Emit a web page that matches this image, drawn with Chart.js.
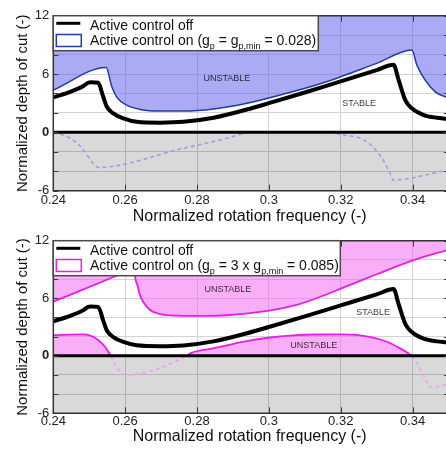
<!DOCTYPE html>
<html>
<head>
<meta charset="utf-8">
<script src="https://cdn.jsdelivr.net/npm/chart.js@4"></script>
<style>
  html, body { margin: 0; padding: 0; background: #fff; }
  .panel { position: absolute; left: 0; }
  canvas { display: block; }
</style>
</head>
<body>
<div class="panel" style="top:0"><canvas id="panelA" width="446" height="225"></canvas></div>
<div class="panel" style="top:225px"><canvas id="panelB" width="446" height="224"></canvas></div>
<script>
// ---- axis ticks ----
const xTicks = [0.24, 0.26, 0.28, 0.30, 0.32, 0.34];
const yTicks = [-6, -4, -2, 0, 2, 4, 6, 8, 10, 12];
const yLabelled = [-6, 0, 6, 12];

// ---- active control off (stability lobes, identical in both panels) ----
const offFreq  = [0.240, 0.2447, 0.2484, 0.2497, 0.2505, 0.2525, 0.2539, 0.2549, 0.2567, 0.2595, 0.2632, 0.2697, 0.2762, 0.2846, 0.2939, 0.3000, 0.3100, 0.3200, 0.3300, 0.3347, 0.3361, 0.3380, 0.3398, 0.3431, 0.3468, 0.3494];
const offDepth = [3.6, 4.17, 4.76, 5.1, 5.15, 5.1, 3.66, 2.63, 1.95, 1.44, 1.09, 1.0, 1.08, 1.5, 2.35, 3.0, 4.1, 5.25, 6.4, 6.95, 5.4, 3.3, 2.47, 1.78, 1.5, 1.4];

// ---- panel A: active control on, g_p = g_p,min = 0.028 ----
const aUpperFreq  = [0.240, 0.2547, 0.2563, 0.2577, 0.2604, 0.2642, 0.2697, 0.2762, 0.2846, 0.2939, 0.3032, 0.3143, 0.3300, 0.3398, 0.3412, 0.3435, 0.3463, 0.3494];
const aUpperDepth = [4.35, 6.68, 4.69, 3.6, 2.8, 2.36, 2.19, 2.19, 2.4, 3.0, 3.85, 5.0, 7.1, 8.46, 6.9, 5.37, 4.17, 3.6];
const aLowerFreq  = [0.240, 0.2447, 0.2484, 0.2511, 0.2525, 0.2762, 0.2874, 0.2955, 0.3170, 0.3207, 0.3254, 0.3290, 0.3318, 0.3337, 0.3346, 0.3494];
const aLowerDepth = [0, -0.6, -1.8, -3.2, -3.6, -1.64, -0.7, 0, 0, -0.28, -0.6, -1.5, -2.85, -4.2, -4.9, -3.9];

// ---- panel B: active control on, g_p = 3 x g_p,min = 0.085 ----
const bLeftFreq   = [0.240, 0.2581, 0.2605];
const bLeftDepth  = [5.64, 8.42, 8.8];
const bUpperFreq  = [0.2621, 0.2627, 0.2634, 0.2641, 0.2650, 0.2669, 0.2697, 0.2743, 0.2800, 0.2892, 0.3000, 0.3077, 0.3140, 0.3207, 0.3300, 0.3397, 0.3494];
const bUpperDepth = [12, 8.42, 7.38, 6.33, 5.64, 4.77, 4.35, 4.18, 4.15, 4.25, 4.7, 5.3, 6.1, 7.1, 8.5, 9.9, 11.0];
const bLowerFreq  = [0.240, 0.2483, 0.2511, 0.2530, 0.2544, 0.2553, 0.2560, 0.2572, 0.2586, 0.2600, 0.2772, 0.2781, 0.2845, 0.2938, 0.2998, 0.3077, 0.3142, 0.3207, 0.3281, 0.3328, 0.3365, 0.3388, 0.3397, 0.3420, 0.3439, 0.3450, 0.3494];
const bLowerDepth = [2.16, 2.23, 1.98, 1.46, 0.94, 0.42, 0, -0.97, -1.67, -2.0, 0, 0.25, 0.77, 1.53, 1.88, 2.16, 2.22, 2.23, 1.98, 1.46, 0.77, 0.25, 0, -1.3, -2.7, -3.3, -3.0];

// ---- region labels ----
const aZones = [
  { text: 'UNSTABLE', x: 0.2883, y: 5.58 },
  { text: 'STABLE',   x: 0.3251, y: 2.98 }
];
const bZones = [
  { text: 'UNSTABLE', x: 0.2886, y: 6.86 },
  { text: 'STABLE',   x: 0.3290, y: 4.53 },
  { text: 'UNSTABLE', x: 0.3125, y: 1.12 }
];

const FONT = "'Liberation Sans', Arial, Helvetica, sans-serif";
Chart.defaults.font.family = FONT;

const pts = (xs, ys) => xs.map((x, i) => ({ x, y: ys[i] }));
const below = c => c.p0.parsed.y < 0 || c.p1.parsed.y < 0;

// Box, inward ticks and region labels
const framePlugin = {
  id: 'frame',
  afterDatasetsDraw(chart, args, opts) {
    const { ctx, chartArea: a, scales: { x, y } } = chart;
    ctx.save();
    ctx.strokeStyle = '#3a3a3a';
    ctx.lineWidth = 1;
    ctx.beginPath();
    xTicks.forEach(v => {
      const px = Math.round(x.getPixelForValue(v)) + 0.5;
      ctx.moveTo(px, a.bottom); ctx.lineTo(px, a.bottom - 6);
      ctx.moveTo(px, a.top); ctx.lineTo(px, a.top + 6);
    });
    yTicks.forEach(v => {
      const py = Math.round(y.getPixelForValue(v)) + 0.5;
      ctx.moveTo(a.left, py); ctx.lineTo(a.left + 5, py);
      ctx.moveTo(a.right + 3, py); ctx.lineTo(a.right - 2, py);
    });
    ctx.stroke();
    ctx.strokeStyle = '#333';
    ctx.lineWidth = 1.5;
    ctx.beginPath();
    ctx.moveTo(a.right + 5, a.top);
    ctx.lineTo(a.left, a.top);
    ctx.lineTo(a.left, a.bottom);
    ctx.lineTo(a.right + 5, a.bottom);
    ctx.stroke();

    ctx.fillStyle = 'rgba(0,0,0,0.78)';
    ctx.font = '9px ' + FONT;
    ctx.textAlign = 'center';
    ctx.textBaseline = 'middle';
    (opts.zones || []).forEach(z => {
      ctx.fillText(z.text, x.getPixelForValue(z.x), y.getPixelForValue(z.y));
    });
    ctx.restore();
  },
  afterDraw(chart, args, opts) {
    const { ctx, chartArea: a } = chart;
    const x0 = a.left, y0 = a.top, w = opts.width, h = 35;
    ctx.save();
    ctx.fillStyle = '#fff';
    ctx.fillRect(x0, y0, w, h);
    ctx.strokeStyle = '#4a4a4a';
    ctx.lineWidth = 1.5;
    ctx.strokeRect(x0, y0, w, h);

    // entry 1: line sample
    ctx.strokeStyle = '#000';
    ctx.lineWidth = 3;
    ctx.beginPath();
    ctx.moveTo(x0 + 3, y0 + 7.6);
    ctx.lineTo(x0 + 27, y0 + 7.6);
    ctx.stroke();
    ctx.fillStyle = '#111';
    ctx.textBaseline = 'alphabetic';
    ctx.textAlign = 'left';
    ctx.font = '14px ' + FONT;
    ctx.fillText('Active control off', x0 + 36.7, y0 + 14.3);

    // entry 2: patch sample
    ctx.strokeStyle = opts.color;
    ctx.lineWidth = 1.5;
    ctx.strokeRect(x0 + 3, y0 + 18.8, 25, 12);
    let tx = x0 + 36.7;
    const base = y0 + 29.3;
    opts.parts.forEach(p => {
      ctx.font = (p.sub ? '9px ' : '14px ') + FONT;
      ctx.fillText(p.t, tx, base + (p.sub ? 3.5 : 0));
      tx += ctx.measureText(p.t).width;
    });
    ctx.restore();
  }
};

function makePanel(id, cfg) {
  const H = cfg.height;
  return new Chart(document.getElementById(id), {
    type: 'line',
    data: { datasets: cfg.datasets },
    options: {
      responsive: false,
      animation: false,
      devicePixelRatio: 1,
      layout: { padding: { top: 15.7, left: 0, right: 0, bottom: 0 }, autoPadding: false },
      elements: { point: { radius: 0 }, line: { cubicInterpolationMode: 'monotone', borderJoinStyle: 'round' } },
      plugins: {
        legend: { display: false },
        tooltip: { enabled: false },
        filler: { drawTime: 'beforeDatasetsDraw' },
        frame: { zones: cfg.zones, width: cfg.legendWidth, color: cfg.legendColor, parts: cfg.legendParts }
      },
      scales: {
        x: {
          type: 'linear', min: 0.24, max: 0.3493,
          afterBuildTicks: s => { s.ticks = xTicks.map(v => ({ value: v })); },
          afterFit: s => { s.height = H - cfg.plotBottom; },
          grid: { color: '#d3d3d3', lineWidth: 1, drawTicks: false },
          border: { display: false },
          ticks: {
            maxRotation: 0, autoSkip: false, padding: cfg.tickPad, color: '#222',
            font: { size: 13, lineHeight: 1 },
            callback: v => String(+v.toFixed(2))
          },
          title: {
            display: true, text: 'Normalized rotation frequency (-)', color: '#111',
            font: { size: 16, lineHeight: 1 }, padding: { top: 0, bottom: cfg.titlePad }
          }
        },
        y: {
          type: 'linear', min: -6, max: 12,
          afterBuildTicks: s => { s.ticks = yTicks.map(v => ({ value: v })); },
          afterFit: s => { s.width = 53.3; },
          grid: { color: '#d3d3d3', lineWidth: 1, drawTicks: false },
          border: { display: false },
          ticks: {
            padding: 4, color: '#222',
            font: c => ({ size: 13, lineHeight: 1, weight: c.tick && c.tick.value === 0 ? 'bold' : 'normal' }),
            callback: v => yLabelled.includes(v) ? String(v) : ''
          },
          title: {
            display: true, text: 'Normalized depth of cut (-)', color: '#111',
            font: { size: 15, lineHeight: 1 }, padding: { top: 15, bottom: 0 }
          }
        }
      }
    },
    plugins: [framePlugin]
  });
}

const zeroLine = () => ({
  data: pts([0.24, 0.3494], [0, 0]),
  borderColor: '#000', borderWidth: 3,
  fill: { target: 'start' }, backgroundColor: 'rgba(0,0,0,0.15)',
  order: 1
});
const offLine = () => ({
  data: pts(offFreq, offDepth),
  borderColor: '#000', borderWidth: 4, fill: false, order: 0
});

makePanel('panelA', {
  height: 225, plotBottom: 190.7, tickPad: 2.8, titlePad: 0,
  zones: aZones, legendWidth: 265, legendColor: '#1f3c9e',
  legendParts: [
    { t: 'Active control on (g' }, { t: 'p', sub: true }, { t: ' = g' },
    { t: 'p,min', sub: true }, { t: ' = 0.028)' }
  ],
  datasets: [
    offLine(),
    zeroLine(),
    {
      data: pts(aUpperFreq, aUpperDepth),
      borderColor: '#1f3c9e', borderWidth: 1.5,
      fill: 'end', backgroundColor: 'rgba(85,85,235,0.5)', order: 2
    },
    {
      data: pts(aLowerFreq, aLowerDepth),
      borderColor: '#9d9ee3', borderWidth: 1.6, borderDash: [4, 3],
      fill: false, order: 3
    }
  ]
});

makePanel('panelB', {
  height: 224, plotBottom: 188.3, tickPad: 1.2, titlePad: 4,
  zones: bZones, legendWidth: 287, legendColor: '#e61ee6',
  legendParts: [
    { t: 'Active control on (g' }, { t: 'p', sub: true }, { t: ' = 3 x g' },
    { t: 'p,min', sub: true }, { t: ' = 0.085)' }
  ],
  datasets: [
    offLine(),
    zeroLine(),
    {
      data: pts(bLeftFreq, bLeftDepth),
      borderColor: '#e61ee6', borderWidth: 1.8,
      fill: 'end', backgroundColor: 'rgba(242,95,242,0.5)', order: 2
    },
    {
      data: pts(bUpperFreq, bUpperDepth),
      borderColor: '#e61ee6', borderWidth: 1.8,
      fill: 'end', backgroundColor: 'rgba(242,95,242,0.5)', order: 2
    },
    {
      data: pts(bLowerFreq, bLowerDepth),
      borderColor: '#e61ee6', borderWidth: 1.8,
      segment: {
        borderColor: c => below(c) ? '#f0a2f0' : '#e61ee6',
        borderDash: c => below(c) ? [4, 3] : []
      },
      fill: { target: 'origin', above: 'rgba(242,95,242,0.5)', below: 'rgba(0,0,0,0)' },
      order: 3
    }
  ]
});
</script>
</body>
</html>
